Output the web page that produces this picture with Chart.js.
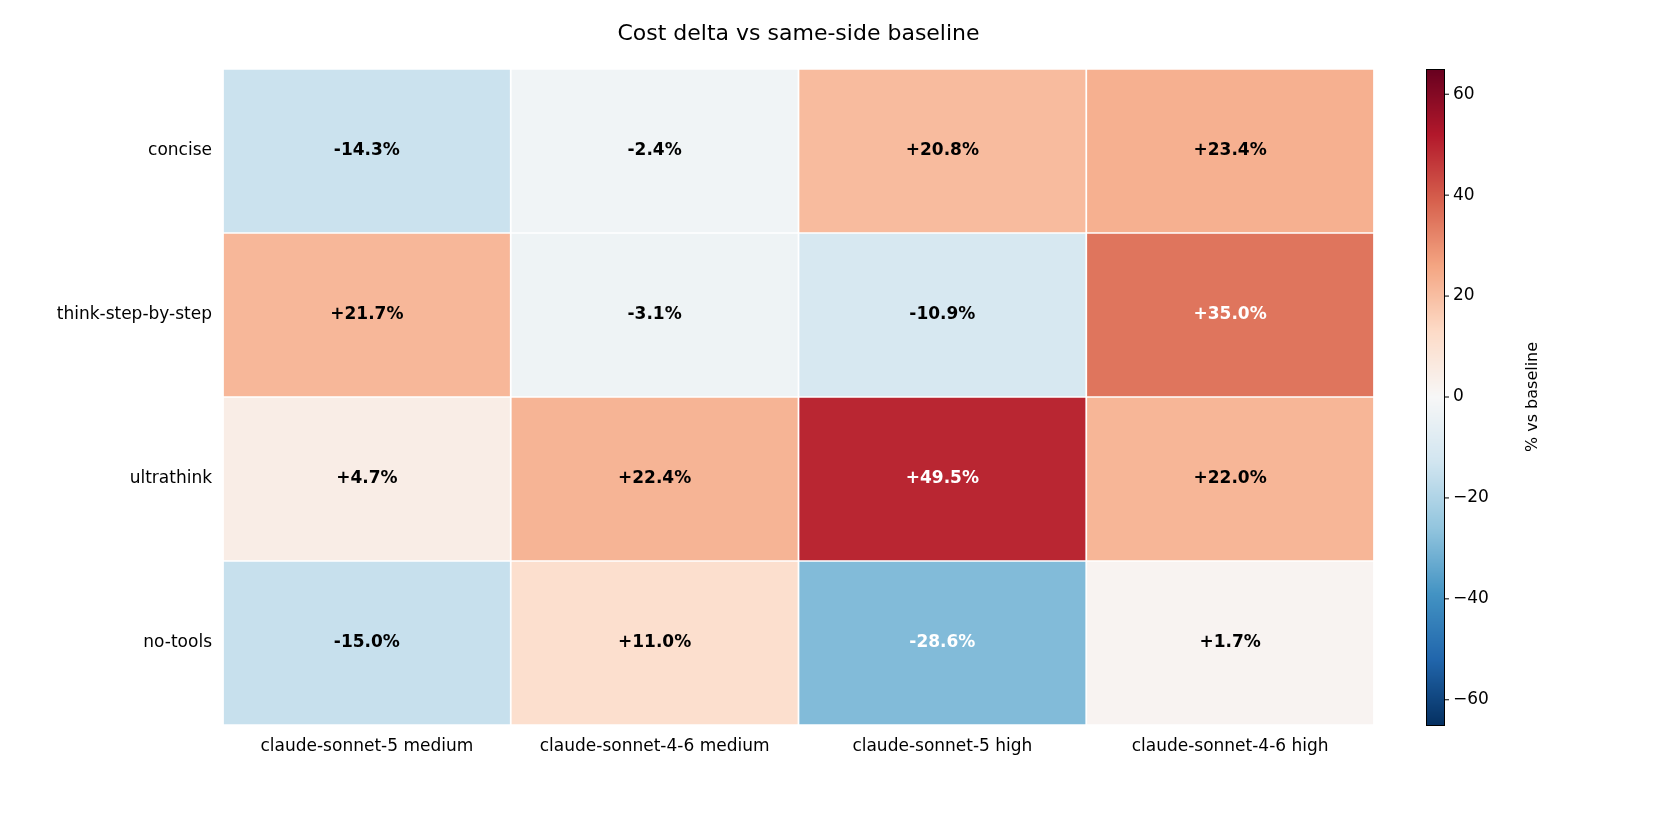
<!DOCTYPE html>
<html><head><meta charset="utf-8">
<script src="https://cdn.jsdelivr.net/npm/chart.js@4"></script>
<style>html,body{margin:0;background:#fff}#wrap{width:1680px;height:832px}</style>
</head><body><div id="wrap"><canvas id="c"></canvas></div>
<script>
const rows = ["concise", "think-step-by-step", "ultrathink", "no-tools"];
const cols = ["claude-sonnet-5 medium", "claude-sonnet-4-6 medium", "claude-sonnet-5 high", "claude-sonnet-4-6 high"];
// values[col][row]
const values = [
  [-14.3, 21.7, 4.7, -15.0],
  [-2.4, -3.1, 22.4, 11.0],
  [20.8, -10.9, 49.5, -28.6],
  [23.4, 35.0, 22.0, 1.7]
];
const cbTicks = [-60, -40, -20, 0, 20, 40, 60];
const vmin = -65, vmax = 65;

const stops = ["#053061","#2166ac","#4393c3","#92c5de","#d1e5f0","#f7f7f7","#fddbc7","#f4a582","#d6604d","#b2182b","#67001f"]
  .map(h => [parseInt(h.slice(1,3),16), parseInt(h.slice(3,5),16), parseInt(h.slice(5,7),16)]);
function cmap(v) {
  let t = Math.max(0, Math.min(1, (v - vmin) / (vmax - vmin))) * (stops.length - 1);
  let i = Math.min(Math.floor(t), stops.length - 2), f = t - i;
  const c = stops[i].map((a, k) => Math.round(a + (stops[i+1][k] - a) * f));
  return `rgb(${c[0]},${c[1]},${c[2]})`;
}
const FONT = "DejaVu Sans";

const overlay = {
  id: "overlay",
  afterDatasetsDraw(chart) {
    const ctx = chart.ctx, x = chart.scales.x, y = chart.scales.y;
    ctx.save();
    ctx.textAlign = "center"; ctx.textBaseline = "middle";
    ctx.font = `bold 17px "${FONT}"`;
    values.forEach((col, c) => col.forEach((v, r) => {
      ctx.fillStyle = Math.abs(v) > 27 ? "#fff" : "#000";
      ctx.fillText((v > 0 ? "+" : "") + v.toFixed(1) + "%", x.getPixelForValue(c), y.getPixelForValue(r));
    }));
    // title
    ctx.fillStyle = "#000"; ctx.font = `22px "${FONT}"`;
    ctx.fillText("Cost delta vs same-side baseline", (x.left + x.right) / 2, 34);
    // colorbar
    const a = chart.chartArea, L = 1426, W = 18, T = a.top, B = a.bottom;
    for (let p = T; p < B; p++) {
      ctx.fillStyle = cmap(vmax - (p - T + 0.5) / (B - T) * (vmax - vmin));
      ctx.fillRect(L, p, W, 1.2);
    }
    ctx.fillStyle = "#000";
    ctx.strokeStyle = "#000"; ctx.lineWidth = 1;
    ctx.strokeRect(L + 0.5, T + 0.5, W, B - T);
    ctx.font = `17px "${FONT}"`; ctx.textAlign = "left";
    cbTicks.forEach(t => {
      const py = T + (vmax - t) / (vmax - vmin) * (B - T);
      ctx.beginPath(); ctx.moveTo(L + W, py); ctx.lineTo(L + W + 5, py); ctx.stroke();
      ctx.fillText(t < 0 ? "\u2212" + (-t) : String(t), L + W + 9, py);
    });
    ctx.translate(1533, (T + B) / 2); ctx.rotate(-Math.PI / 2);
    ctx.textAlign = "center"; ctx.font = `16px "${FONT}"`;
    ctx.fillText("% vs baseline", 0, 0);
    ctx.restore();
  }
};

new Chart(document.getElementById("c"), {
  type: "bar",
  data: {
    labels: rows,
    datasets: values.map((col, c) => ({
      data: col.map(() => [c - 0.5, c + 0.5]),
      backgroundColor: col.map(cmap),
      borderColor: "#fff", borderWidth: 1.2, borderSkipped: false,
      categoryPercentage: 1, barPercentage: 1, grouped: false
    }))
  },
  options: {
    indexAxis: "y", responsive: true, maintainAspectRatio: false, animation: false,
    layout: { padding: { top: 69, right: 306, left: 0, bottom: 0 } },
    plugins: { legend: { display: false }, tooltip: { enabled: false } },
    scales: {
      x: {
        type: "linear", min: -0.5, max: 3.5,
        afterBuildTicks: s => { s.ticks = cols.map((_, i) => ({ value: i })); },
        afterFit: s => { s.height = 107; },
        grid: { display: false }, border: { display: false },
        ticks: { color: "#000", font: { family: FONT, size: 17 }, callback: v => cols[v] ?? "", maxRotation: 0, autoSkip: false }
      },
      y: {
        afterFit: s => { s.width = 223; },
        grid: { display: false }, border: { display: false },
        ticks: { color: "#000", font: { family: FONT, size: 17 } }
      }
    }
  },
  plugins: [overlay]
});
</script></body></html>
